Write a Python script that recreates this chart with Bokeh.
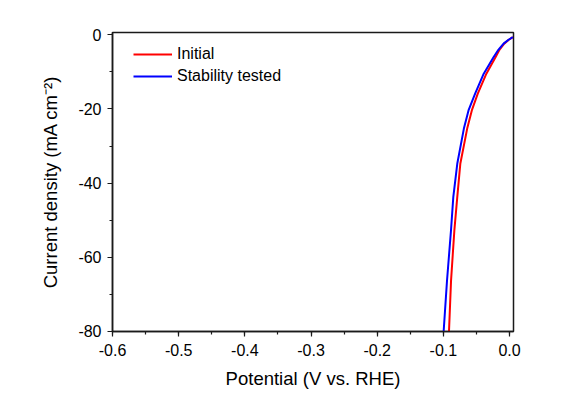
from bokeh.plotting import figure
from bokeh.models import Range1d, SingleIntervalTicker, Legend, LegendItem, PrintfTickFormatter
from bokeh.embed import file_html
from bokeh.resources import INLINE

# Data (Potential V vs RHE, current density mA cm^-2)
initial_v = [0.005, -0.001, -0.008, -0.015, -0.021, -0.035, -0.048, -0.057, -0.064, -0.0744, -0.079, -0.0834, -0.0884, -0.0915]
initial_j = [-0.65, -1.35, -2.4, -4.0, -6.0, -10.5, -15.9, -20.4, -25.3, -34.8, -43.8, -52.8, -66.3, -80.0]
stab_v = [0.005, -0.0015, -0.009, -0.0166, -0.024, -0.039, -0.052, -0.062, -0.069, -0.079, -0.085, -0.0885, -0.0945, -0.0996]
stab_j = [-0.65, -1.35, -2.4, -4.0, -6.0, -10.5, -15.9, -20.4, -25.3, -34.8, -43.8, -52.8, -66.3, -80.0]

FONT = "Liberation Sans"

p = figure(width=585, height=397, output_backend="svg", toolbar_location=None,
           x_range=Range1d(-0.6001, 0.006), y_range=Range1d(-80.01, 0.6),
           min_border_left=112, min_border_right=72, min_border_top=32, min_border_bottom=66)
p.background_fill_color = "white"
p.border_fill_color = "white"
p.outline_line_color = "#1a1a1a"
p.outline_line_width = 1.5
p.xgrid.visible = False
p.ygrid.visible = False

r1 = p.line(initial_v, initial_j, line_color="#ff0000", line_width=2)
r2 = p.line(stab_v, stab_j, line_color="#0000ff", line_width=2)

for ax in (p.xaxis[0], p.yaxis[0]):
    ax.axis_line_color = "#1a1a1a"
    ax.axis_line_width = 1.5
    ax.major_tick_line_color = "#1a1a1a"
    ax.minor_tick_line_color = "#1a1a1a"
    ax.major_tick_line_width = 1.2
    ax.minor_tick_line_width = 1.2
    ax.major_tick_in = 0
    ax.major_tick_out = 5
    ax.minor_tick_in = 0
    ax.minor_tick_out = 3
    ax.major_label_text_font = FONT
    ax.major_label_text_font_size = "16px"
    ax.major_label_text_color = "black"
    ax.axis_label_text_font = FONT
    ax.axis_label_text_font_size = "18.5px"
    ax.axis_label_text_font_style = "normal"
    ax.axis_label_text_color = "black"

p.xaxis[0].ticker = SingleIntervalTicker(interval=0.1, num_minor_ticks=2)
p.yaxis[0].ticker = SingleIntervalTicker(interval=20, num_minor_ticks=2)
p.xaxis[0].formatter = PrintfTickFormatter(format="%.1f")
p.yaxis[0].formatter = PrintfTickFormatter(format="%d")
p.xaxis[0].major_label_standoff = 7
p.yaxis[0].major_label_standoff = 6
p.xaxis[0].axis_label = "Potential (V vs. RHE)"
p.yaxis[0].axis_label = "Current density (mA cm\u207b\u00b2)"
p.xaxis[0].axis_label_standoff = 9
p.yaxis[0].axis_label_standoff = 14

legend = Legend(items=[LegendItem(label="Initial", renderers=[r1]),
                       LegendItem(label="Stability tested", renderers=[r2])],
                location=(21, 245), margin=0, padding=0, spacing=2,
                glyph_width=39, glyph_height=20, label_standoff=5,
                border_line_color=None, background_fill_alpha=0,
                label_text_font=FONT, label_text_font_size="16px", label_text_color="black")
p.add_layout(legend)

open("out.html", "w").write(file_html(p, INLINE))
